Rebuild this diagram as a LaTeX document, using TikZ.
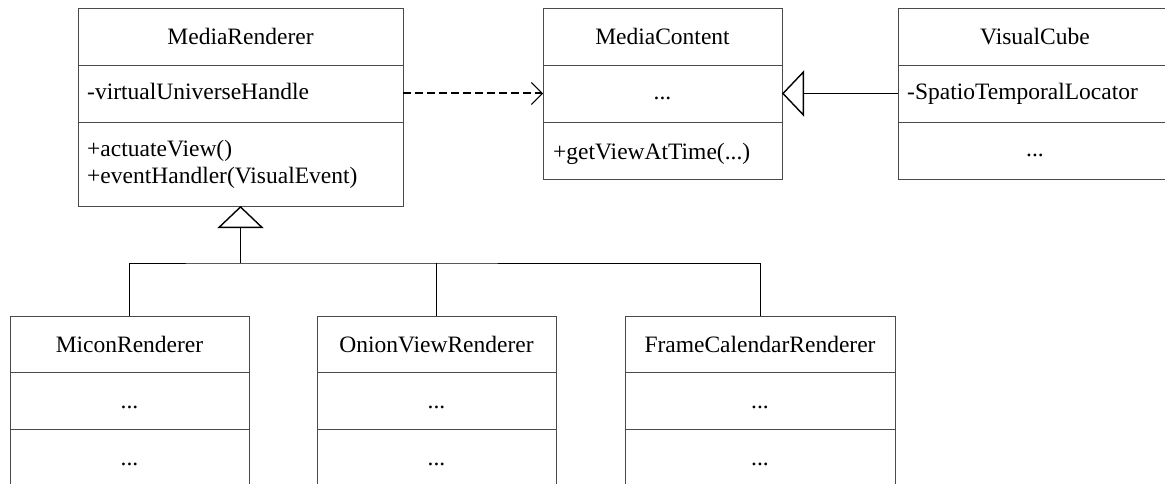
\documentclass[tikz,border=0pt]{standalone}
\usepackage{fontspec}
\setmainfont{Liberation Serif}
\usetikzlibrary{arrows.meta}
\definecolor{boxline}{HTML}{4A4A4A}
\tikzset{
  comp/.style={rectangle, draw=boxline, line width=0.9pt, inner sep=0pt, outer sep=0pt, anchor=north west},
  lbl/.style={inner sep=0pt, font=\fontsize{23.5}{26}\selectfont},
  ctr/.style={lbl, anchor=base},
  lft/.style={lbl, anchor=base west},
  wire/.style={line width=0.9pt, draw=black},
  depend/.style={line width=2pt, dash pattern=on 8pt off 4pt, -{Straight Barb[length=11pt, width=22pt, line width=0.9pt]}},
  inherit/.style={wire, -{Triangle[open, length=22pt, width=46pt, line width=1.4pt]}},
}
\begin{document}
\begin{tikzpicture}[x=1pt, y=-1pt]
  \useasboundingbox (0,0) rectangle (1165,484);
  \clip (0,0) rectangle (1165,484);
  \fill[white] (0,0) rectangle (1165,484);

  % MediaRenderer
  \node[comp, minimum width=325pt, minimum height=57pt] (mr-t) at (78,8) {};
  \node[comp, minimum width=325pt, minimum height=57pt] (mr-a) at (78,65) {};
  \node[comp, minimum width=325pt, minimum height=84pt] (mr-m) at (78,122) {};
  \node[ctr] (mr-name) at (240.5,45) {MediaRenderer};
  \node[lft] (mr-attr) at (87,100) {-virtualUniverseHandle};
  \node[lft] (mr-op1) at (87,157) {+actuateView()};
  \node[lft] (mr-op2) at (87,183) {+eventHandler(VisualEvent)};

  % MediaContent
  \node[comp, minimum width=239pt, minimum height=57pt] (mc-t) at (543,8) {};
  \node[comp, minimum width=239pt, minimum height=57pt] (mc-a) at (543,65) {};
  \node[comp, minimum width=239pt, minimum height=57pt] (mc-m) at (543,122) {};
  \node[ctr] (mc-name) at (662.5,45) {MediaContent};
  \node[ctr] (mc-attr) at (662.5,100) {...};
  \node[lft] (mc-op) at (553,160) {+getViewAtTime(...)};

  % VisualCube
  \node[comp, minimum width=274pt, minimum height=57pt] (vc-t) at (898,8) {};
  \node[comp, minimum width=274pt, minimum height=57pt] (vc-a) at (898,65) {};
  \node[comp, minimum width=274pt, minimum height=57pt] (vc-m) at (898,122) {};
  \node[ctr] (vc-name) at (1035,45) {VisualCube};
  \node[lft] (vc-attr) at (907,100) {-SpatioTemporalLocator};
  \node[ctr] (vc-op) at (1035,157) {...};

  % MiconRenderer
  \node[comp, minimum width=239pt, minimum height=56pt] (mi-t) at (10,316) {};
  \node[comp, minimum width=239pt, minimum height=57pt] (mi-a) at (10,372) {};
  \node[comp, minimum width=239pt, minimum height=70pt] (mi-m) at (10,429) {};
  \node[ctr] (mi-name) at (129.5,352) {MiconRenderer};
  \node[ctr] (mi-attr) at (129.5,408) {...};
  \node[ctr] (mi-op) at (129.5,465) {...};

  % OnionViewRenderer
  \node[comp, minimum width=239pt, minimum height=56pt] (on-t) at (317,316) {};
  \node[comp, minimum width=239pt, minimum height=57pt] (on-a) at (317,372) {};
  \node[comp, minimum width=239pt, minimum height=70pt] (on-m) at (317,429) {};
  \node[ctr] (on-name) at (436.5,352) {OnionViewRenderer};
  \node[ctr] (on-attr) at (436.5,408) {...};
  \node[ctr] (on-op) at (436.5,465) {...};

  % FrameCalendarRenderer
  \node[comp, minimum width=270pt, minimum height=56pt] (fr-t) at (625,316) {};
  \node[comp, minimum width=270pt, minimum height=57pt] (fr-a) at (625,372) {};
  \node[comp, minimum width=270pt, minimum height=70pt] (fr-m) at (625,429) {};
  \node[ctr] (fr-name) at (760,352) {FrameCalendarRenderer};
  \node[ctr] (fr-attr) at (760,408) {...};
  \node[ctr] (fr-op) at (760,465) {...};

  % dependency and generalisations
  \draw[depend] (mr-a.east) -- (mc-a.west);
  \draw[inherit] (vc-a.west) -- (mc-a.east);

  \coordinate (joint) at (240.5,263);
  \draw[inherit] (joint) -- (mr-m.south);
  \draw[wire] (mi-t.north) |- (joint) -| (fr-t.north);
  \draw[wire] (on-t.north) -- (on-t.north |- joint);
\end{tikzpicture}
\end{document}
